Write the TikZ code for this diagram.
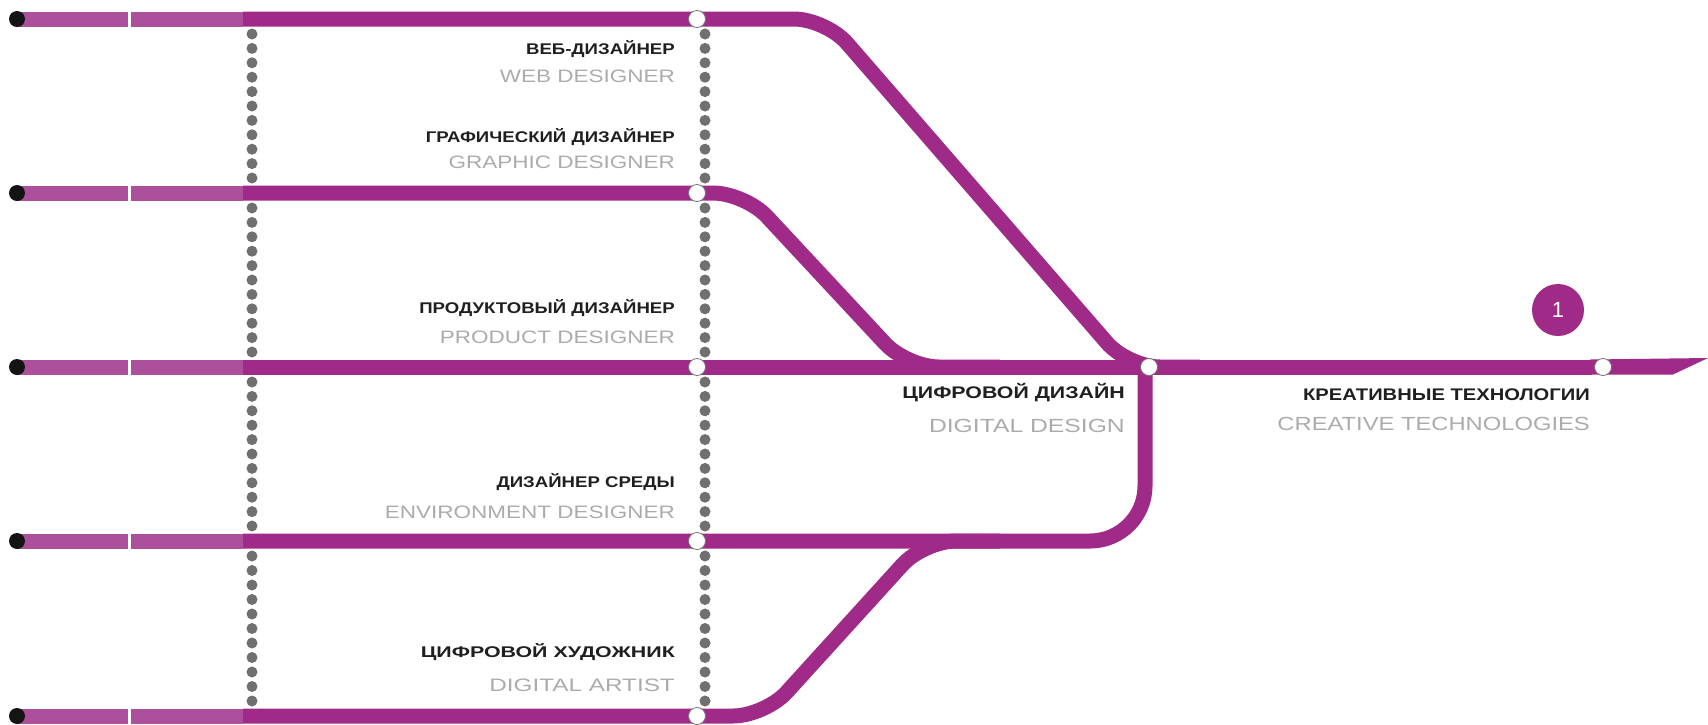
\documentclass[tikz,border=0pt]{standalone}
\usepackage{fontspec}
\setmainfont{Liberation Sans}
\newfontfamily\rufont[FakeStretch=1.2]{Liberation Sans Bold}
\newfontfamily\rufontmid[FakeStretch=1.27]{Liberation Sans Bold}
\newfontfamily\rufontwide[FakeStretch=1.38]{Liberation Sans Bold}
\newfontfamily\enfont[FakeStretch=1.25]{Liberation Sans}
\newfontfamily\enfontmid[FakeStretch=1.3]{Liberation Sans}
\newfontfamily\enfontwide[FakeStretch=1.35]{Liberation Sans}
\definecolor{pdark}{HTML}{A02A88}
\definecolor{plight}{HTML}{AC509C}
\definecolor{entext}{HTML}{ABABAB}
\definecolor{dotgray}{HTML}{707070}
\begin{document}
\begin{tikzpicture}[x=1pt,y=-1pt,
  track/.style={draw=pdark,line width=15pt,rounded corners=32pt},
  lead/.style={draw=plight,line width=15pt},
  station/.style={circle,fill=white,draw=black!55,line width=0.8pt,inner sep=0pt,minimum size=17pt},
  origin/.style={circle,fill=black!92,inner sep=0pt,minimum size=16pt},
  rulabel/.style={anchor=base east,inner sep=0pt,text=black!88,font=\rufont\fontsize{15.5}{17}\selectfont},
  enlabel/.style={anchor=base east,inner sep=0pt,text=entext,font=\enfont\fontsize{18}{20}\selectfont},
  rubig/.style={rulabel,font=\rufont\fontsize{16.8}{18}\selectfont},
  enbig/.style={enlabel,font=\enfont\fontsize{19}{21}\selectfont},
  badge/.style={circle,fill=pdark,inner sep=0pt,minimum size=52pt,text=white,font=\fontsize{22}{24}\selectfont}
]
\useasboundingbox (0,0) rectangle (1708,724);
% dotted verticals
\foreach \x in {252,705}
  \foreach \ya/\yb in {19/193,193/367,367/541,541/716}
    \foreach \k in {0,...,10}
      \fill[dotgray] (\x,{\ya+15+\k*(\yb-\ya-30)/10}) circle (5.5pt);
% row coordinates
\foreach \i/\y in {1/19,2/193,3/367,4/541,5/716}{
  \coordinate (o\i) at (17,\y);
  \coordinate (g\i) at (128,\y);
  \coordinate (h\i) at (131,\y);
  \coordinate (d\i) at (243,\y);
}
\coordinate (b1) at (826,19);
\coordinate (c1) at (1128,367);
\coordinate (b2) at (745,193);
\coordinate (c2) at (907,367);
\coordinate (m3) at (1000,367);
\coordinate (x3) at (1200,367);
\coordinate (b4) at (1145,541);
\coordinate (v4) at (1145,367);
\coordinate (b5) at (765,716);
\coordinate (c5) at (924,541);
\coordinate (m5) at (1000,541);
\coordinate (t3) at (1592,367);
\coordinate (tipa) at (1590,359.5);
\coordinate (tipb) at (1708,358);
\coordinate (tipc) at (1673,374.5);
\coordinate (tipd) at (1590,374.5);
% leads
\foreach \i in {1,...,5}{
  \draw[lead] (o\i) -- (g\i);
  \draw[lead] (h\i) -- (d\i);
}
% tracks
\draw[track] (d1) -- (b1) -- (c1) -- (x3);
\draw[track] (d2) -- (b2) -- (c2) -- (m3);
\draw[track,rounded corners=55pt] (d4) -- (b4) -- (v4);
\draw[track] (d5) -- (b5) -- (c5) -- (m5);
\draw[track] (d3) -- (t3);
\fill[pdark] (tipa) -- (tipb) -- (tipc) -- (tipd) -- cycle;
% origins and stations
\foreach \i/\y in {1/19,2/193,3/367,4/541,5/716}{
  \node[origin] (st\i) at (17,\y) {};
  \node[station] (s\i) at (697,\y) {};
}
\node[station] (junc) at (1149,367) {};
\node[station] (endst) at (1603,367) {};
\node[badge] (one) at (1558,310) {1};
% labels
\node[rulabel] (r1) at (675,54) {ВЕБ-ДИЗАЙНЕР};
\node[enlabel] (e1) at (675,82) {WEB DESIGNER};
\node[rulabel] (r2) at (675,142) {ГРАФИЧЕСКИЙ ДИЗАЙНЕР};
\node[enlabel] (e2) at (675,168) {GRAPHIC DESIGNER};
\node[rulabel] (r3) at (675,313) {ПРОДУКТОВЫЙ ДИЗАЙНЕР};
\node[enlabel] (e3) at (675,343) {PRODUCT DESIGNER};
\node[rulabel] (r4) at (675,487) {ДИЗАЙНЕР СРЕДЫ};
\node[enlabel] (e4) at (675,518.5) {ENVIRONMENT DESIGNER};
\node[rulabel,font=\rufontwide\fontsize{15.5}{17}\selectfont] (r5) at (675,657) {ЦИФРОВОЙ ХУДОЖНИК};
\node[enlabel,font=\enfontwide\fontsize{18}{20}\selectfont] (e5) at (675,691) {DIGITAL ARTIST};
\node[rubig,font=\rufontmid\fontsize{16.8}{18}\selectfont] (r6) at (1125,398) {ЦИФРОВОЙ ДИЗАЙН};
\node[enbig,font=\enfontmid\fontsize{19}{21}\selectfont] (e6) at (1125,432) {DIGITAL DESIGN};
\node[rubig] (r7) at (1590,400) {КРЕАТИВНЫЕ ТЕХНОЛОГИИ};
\node[enbig] (e7) at (1590,430) {CREATIVE TECHNOLOGIES};
\end{tikzpicture}
\end{document}
